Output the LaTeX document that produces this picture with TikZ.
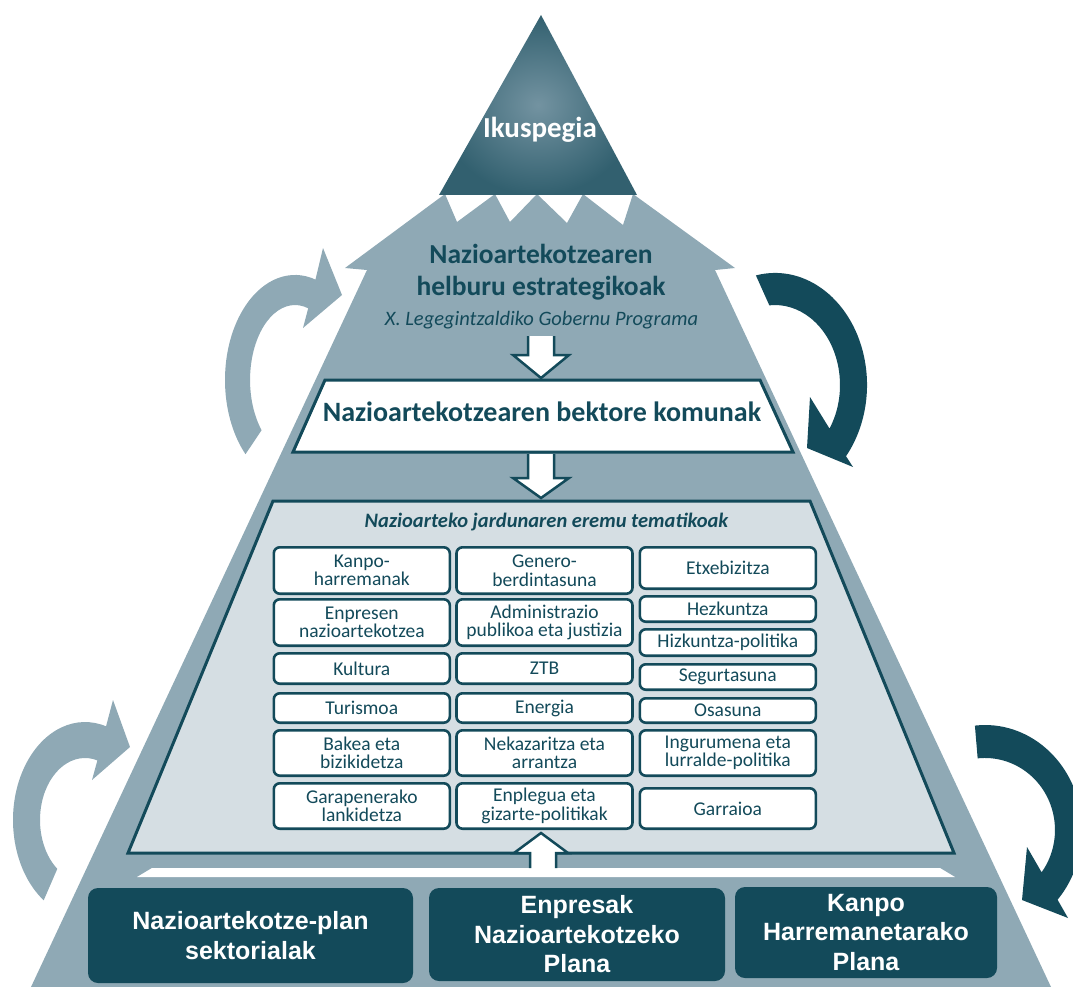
\documentclass[tikz,border=0pt]{standalone}
\usepackage{fontspec}
\setmainfont{Carlito}
\newfontfamily\planfont{Liberation Sans}
\usetikzlibrary{positioning}
\setlength{\lineskiplimit}{-100pt}

\definecolor{pyrgrey}{HTML}{8FA9B5}
\definecolor{darkteal}{HTML}{134A5A}
\definecolor{paleblue}{HTML}{D5DEE3}
\definecolor{toplight}{HTML}{7393A1}
\definecolor{topdark}{HTML}{32606F}

\begin{document}
\begin{tikzpicture}[x=1pt,y=-1pt,line join=miter,
  cell/.style={draw=darkteal,fill=white,line width=2.6pt,rounded corners=6pt,
    inner sep=0pt,minimum width=176pt,align=center,text=darkteal,
    font=\fontsize{19.5}{18.5}\selectfont},
  plan/.style={fill=darkteal,rounded corners=10pt,inner sep=0pt,align=center,
    text=white,font=\planfont\bfseries\fontsize{25}{29.5}\selectfont},
  hollow/.style={draw=darkteal,line width=2.5pt},
  title/.style={text=darkteal,inner sep=0pt,anchor=base}]

  \useasboundingbox (0,0) rectangle (1073,987);

  % turning arrows round the pyramid
  \fill[pyrgrey] (245.5,454.2) arc[start angle=135,end angle=287,x radius=70,y radius=105]
    -- (323,248) -- (342,295) -- (303,328) -- (308.2,308.3)
    arc[start angle=287,end angle=138,x radius=45,y radius=75] -- cycle;
  \fill[pyrgrey] (43.7,900.3) arc[start angle=125,end angle=287,x radius=72,y radius=98]
    -- (113,700) -- (130,747) -- (92,780) -- (97.4,760.4)
    arc[start angle=286,end angle=128,x radius=45,y radius=62] -- cycle;
  \fill[darkteal] (755.9,275.4) arc[start angle=258,end angle=399.5,x radius=92,y radius=112]
    -- (853,467) -- (807,448) -- (810,397) -- (829.5,428.6)
    arc[start angle=33,end angle=-95,x radius=65,y radius=80] -- cycle;
  \fill[darkteal] (974.9,725.6) arc[start angle=264,end angle=401.6,x radius=97,y radius=105]
    -- (1068,918) -- (1022,900) -- (1027,847) -- (1041.6,872.3)
    arc[start angle=36,end angle=-96,x radius=70,y radius=72] -- cycle;

  % pyramid body
  \fill[pyrgrey] (345,268) -- (445,194) -- (457,222) -- (495,194) -- (510,222)
    -- (537,194) -- (567,223) -- (583,194) -- (623,225) -- (633,194)
    -- (735,268) -- (715,270) -- (1051,987) -- (31,987) -- (367,270) -- cycle;

  % vision triangle
  \shade[inner color=toplight,outer color=topdark] (541,15) -- (637,195) -- (439,195) -- cycle;
  \node[title,text=white,font=\bfseries\fontsize{29}{32}\selectfont] (vision) at (540,138) {Ikuspegia};

  \node[text=darkteal,align=center,font=\bfseries\fontsize{27.5}{32}\selectfont] (goals) at (541,272)
    {Nazioartekotzearen\\helburu estrategikoak};
  \node[title,font=\itshape\fontsize{20.5}{22}\selectfont] (programme) at (541.5,325)
    {X. Legegintzaldiko Gobernu Programa};

  \fill[white] (528,336) -- (528,355) -- (513,355) -- (541,378) -- (569,355) -- (554,355) -- (554,336) -- cycle;
  \draw[hollow] (528,336) -- (528,355) -- (513,355) -- (541,378) -- (569,355) -- (554,355) -- (554,336);

  % common vectors
  \draw[darkteal,fill=white,line width=3pt] (325,380) -- (760,380) -- (793,452) -- (293,452) -- cycle;
  \node[title,font=\bfseries\fontsize{28}{30}\selectfont] (vectors) at (542,421.5)
    {Nazioartekotzearen bektore komunak};

  \fill[white] (528,454) -- (528,478) -- (513,478) -- (541,498) -- (569,478) -- (554,478) -- (554,454) -- cycle;
  \draw[hollow] (528,454) -- (528,478) -- (513,478) -- (541,498) -- (569,478) -- (554,478) -- (554,454);

  % thematic areas
  \draw[darkteal,fill=paleblue,line width=3pt] (273,501) -- (810,501) -- (954,853) -- (128,853) -- cycle;
  \node[title,font=\bfseries\itshape\fontsize{20.5}{22}\selectfont] (areas) at (546.5,527)
    {Nazioarteko jardunaren eremu tematikoak};

  \node[cell,minimum height=46.4pt] (kanpo) at (361.8,570.5) {Kanpo-\\harremanak};
  \node[cell,minimum height=46.4pt] (enpresen) at (361.8,622.5) {Enpresen\\nazioartekotzea};
  \node[cell,minimum height=30.4pt] (kultura) at (361.8,668.5) {Kultura};
  \node[cell,minimum height=29.4pt] (turismoa) at (361.8,708) {Turismoa};
  \node[cell,minimum height=45.4pt] (bakea) at (361.8,753) {Bakea eta\\bizikidetza};
  \node[cell,minimum height=45.4pt] (garapen) at (361.8,806) {Garapenerako\\lankidetza};

  \node[cell,minimum height=46.4pt] (genero) at (544.5,570.5) {Genero-\\berdintasuna};
  \node[cell,minimum height=46.4pt] (admin) at (544.5,622.5) {Administrazio\\publikoa eta justizia};
  \node[cell,minimum height=30.4pt] (ztb) at (544.5,668.5) {ZTB};
  \node[cell,minimum height=29.4pt] (energia) at (544.5,708) {Energia};
  \node[cell,minimum height=45.4pt] (nekazar) at (544.5,753) {Nekazaritza eta\\arrantza};
  \node[cell,minimum height=45.4pt] (enplegu) at (544.5,806) {Enplegua eta\\gizarte-politikak};

  \node[cell,minimum height=41.4pt] (etxebizi) at (727.8,568) {Etxebizitza};
  \node[cell,minimum height=25.4pt] (hezkuntza) at (727.8,609) {Hezkuntza};
  \node[cell,minimum height=26.4pt] (hizkuntza) at (727.8,642.5) {Hizkuntza-politika};
  \node[cell,minimum height=25.4pt] (segurtas) at (727.8,677) {Segurtasuna};
  \node[cell,minimum height=24.4pt] (osasuna) at (727.8,710.5) {Osasuna};
  \node[cell,minimum height=45.4pt] (ingurumen) at (727.8,753) {Ingurumena eta\\lurralde-politika};
  \node[cell,minimum height=40.4pt] (garraioa) at (727.8,808.5) {Garraioa};

  % plans at the base
  \fill[white] (152,868) -- (940,868) -- (955,877) -- (137,877) -- cycle;
  \fill[white] (530,870) -- (530,853) -- (514,853) -- (541,833) -- (568,853) -- (556,853) -- (556,870) -- cycle;
  \draw[hollow] (530,868) -- (530,853) -- (514,853) -- (541,833) -- (568,853) -- (556,853) -- (556,868);

  \node[plan,minimum width=325pt,minimum height=95pt] (sectoral) at (250.5,935.5)
    {Nazioartekotze-plan\\sektorialak};
  \node[plan,minimum width=296pt,minimum height=93pt] (business) at (577,934.5)
    {Enpresak\\Nazioartekotzeko\\Plana};
  \node[plan,minimum width=262pt,minimum height=91pt] (external) at (866,932.5)
    {Kanpo\\Harremanetarako\\Plana};
\end{tikzpicture}
\end{document}
